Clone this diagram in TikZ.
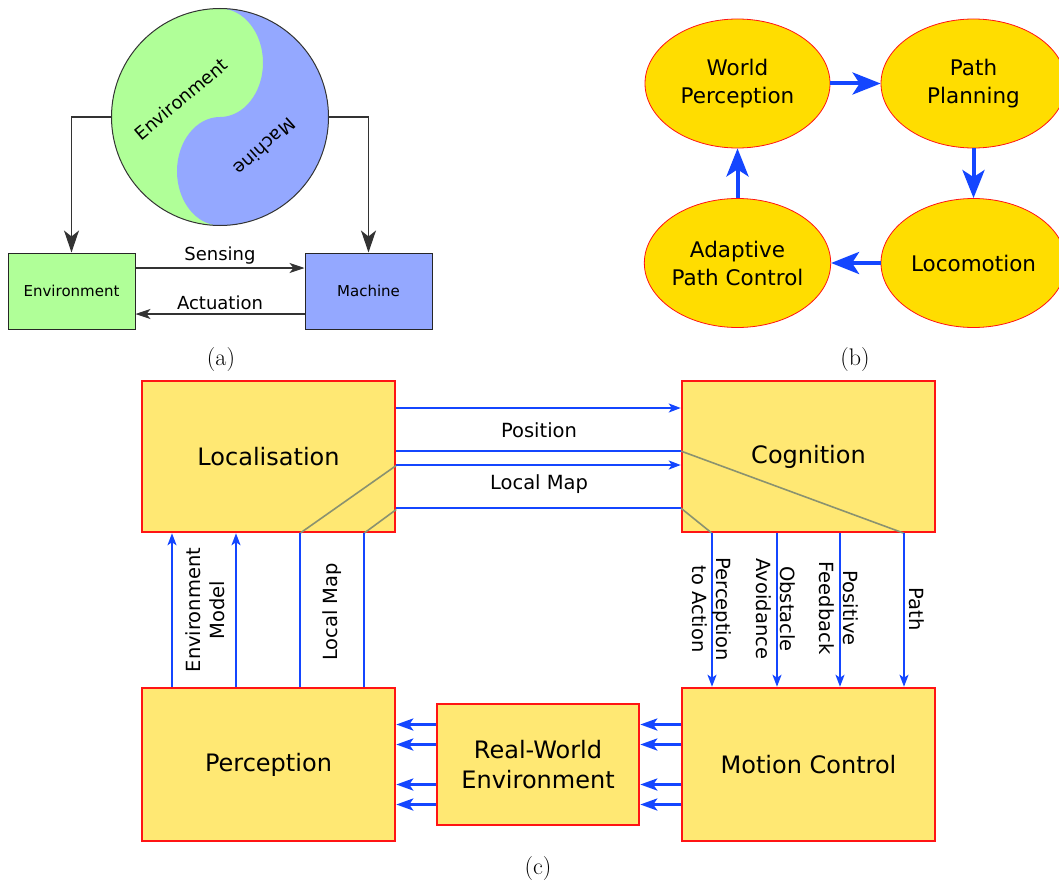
\documentclass[tikz,border=0pt]{standalone}
\usepackage{fontspec}
\usetikzlibrary{arrows.meta,shapes.geometric}
\newfontfamily\dv{DejaVu Sans}
\definecolor{envgreen}{RGB}{176,255,152}
\definecolor{macblue}{RGB}{148,168,255}
\definecolor{goldy}{RGB}{255,221,0}
\definecolor{lyellow}{RGB}{255,232,115}
\definecolor{abblue}{RGB}{20,70,255}
\definecolor{grayline}{RGB}{138,146,112}
\definecolor{bred}{RGB}{255,20,20}
\begin{document}
\begin{tikzpicture}[x=1pt,y=1pt,
  abox/.style={draw=black!85, line width=1pt, minimum width=127pt, minimum height=76pt, inner sep=0pt, font=\dv\fontsize{15}{18}\selectfont},
  blk/.style={draw=black!80, line width=1.1pt},
  bigtip/.style={-{Stealth[length=22pt,width=15pt,inset=6pt]}},
  smalltip/.style={-{Stealth[length=15pt,width=10pt,inset=4pt]}},
  alab/.style={font=\dv\fontsize{18}{22}\selectfont},
  ell/.style={ellipse, draw=bred, line width=0.8pt, fill=goldy, minimum width=185pt, minimum height=129pt, inner sep=0pt, align=center, font=\dv\fontsize{21.5}{28}\selectfont},
  barrow/.style={draw=abblue, line width=4pt, -{Stealth[length=28pt,width=22pt,inset=7pt]}},
  cbox/.style={draw=bred, line width=2.5pt, fill=lyellow, inner sep=0pt, align=center, font=\dv\fontsize{24}{30}\selectfont},
  cline/.style={draw=abblue, line width=2pt},
  ctip/.style={-{Stealth[length=12pt,width=9pt,inset=3pt]}},
  bot/.style={draw=abblue, line width=3pt, -{Stealth[length=17pt,width=12pt,inset=4pt]}},
  glab/.style={font=\dv\fontsize{19.5}{24}\selectfont, align=center},
  gline/.style={draw=grayline, line width=1.6pt},
  captxt/.style={font=\fontsize{24}{28}\selectfont}
]
\clip (0,0) rectangle (1059,-888);
% ---------------- (a)
\fill[envgreen] (220,-117) circle[radius=108.5];
\fill[macblue] (220,-8.5) arc[start angle=90,end angle=-90,radius=108.5]
  arc[start angle=-90,end angle=-270,x radius=43,y radius=54.25]
  arc[start angle=-90,end angle=90,x radius=43,y radius=54.25] -- cycle;
\node[circle, draw=black!80, line width=1pt, minimum size=217pt, inner sep=0pt] (yy) at (220,-117) {};
\node[alab, rotate=40] (tenv) at (181,-99) {Environment};
\node[alab, rotate=222] (tmac) at (265,-147) {Machine};
\node[abox, fill=envgreen] (envb) at (71.5,-291) {Environment};
\node[abox, fill=macblue] (macb) at (368.5,-291) {Machine};
\draw[blk, bigtip] (yy.west) -| (envb.north);
\draw[blk, bigtip] (yy.east) -| (macb.north);
\draw[blk, smalltip] ([yshift=23pt]envb.east) -- node[alab, above] {Sensing} ([yshift=23pt]macb.west);
\draw[blk, smalltip] ([yshift=-23pt]macb.west) -- node[alab, above] {Actuation} ([yshift=-23pt]envb.east);
\node[captxt] (capa) at (221,-360) {(a)};
% ---------------- (b)
\node[ell] (wp) at (737.5,-83.5) {World\\Perception};
\node[ell] (pp) at (973.5,-83.5) {Path\\Planning};
\node[ell] (apc) at (737.5,-263) {Adaptive\\Path Control};
\node[ell] (loco) at (973.5,-263) {Locomotion};
\draw[barrow] (wp.east) -- (pp.west);
\draw[barrow] (pp.south) -- (loco.north);
\draw[barrow] (loco.west) -- (apc.east);
\draw[barrow] (apc.north) -- (wp.south);
\node[captxt] (capb) at (855,-360) {(b)};
% ---------------- (c)
\node[cbox, minimum width=253pt, minimum height=151pt] (loc) at (268.5,-456.5) {Localisation};
\node[cbox, minimum width=253pt, minimum height=151pt] (cog) at (808.5,-456.5) {Cognition};
\node[cbox, minimum width=253pt, minimum height=153pt] (per) at (268.5,-764.5) {Perception};
\node[cbox, minimum width=253pt, minimum height=153pt] (mot) at (808.5,-764.5) {Motion Control};
\node[cbox, minimum width=202pt, minimum height=121pt] (rwe) at (538,-764.5) {Real-World\\Environment};
% gray diagonals
\draw[gline] ([yshift=-9pt]loc.east) -- ([xshift=31.5pt]loc.south);
\draw[gline] ([yshift=-53pt]loc.east) -- ([xshift=95.5pt]loc.south);
\draw[gline] ([yshift=5.5pt]cog.west) -- ([xshift=95.5pt]cog.south);
\draw[gline] ([yshift=-51.5pt]cog.west) -- ([xshift=-96.5pt]cog.south);
% horizontal channels
\draw[cline, ctip] ([yshift=48.5pt]loc.east) -- ([yshift=48.5pt]cog.west);
\draw[cline] ([yshift=5.5pt]loc.east) -- ([yshift=5.5pt]cog.west);
\draw[cline, ctip] ([yshift=-8.5pt]loc.east) -- ([yshift=-8.5pt]cog.west);
\draw[cline] ([yshift=-51.5pt]loc.east) -- ([yshift=-51.5pt]cog.west);
\node[glab] (lpos) at (539,-430) {Position};
\node[glab] (llm) at (539,-484) {Local Map};
% verticals left
\draw[cline, ctip] ([xshift=-96.5pt]per.north) -- ([xshift=-96.5pt]loc.south);
\draw[cline, ctip] ([xshift=-32.5pt]per.north) -- ([xshift=-32.5pt]loc.south);
\draw[cline] ([xshift=31.5pt]per.north) -- ([xshift=31.5pt]loc.south);
\draw[cline] ([xshift=95.5pt]per.north) -- ([xshift=95.5pt]loc.south);
\node[glab, rotate=90] (lem) at (205,-610) {Environment\\Model};
\node[glab, rotate=90] (llm2) at (332,-612) {Local Map};
% verticals right
\draw[cline, ctip] ([xshift=-96.5pt]cog.south) -- ([xshift=-96.5pt]mot.north);
\draw[cline, ctip] ([xshift=-31.5pt]cog.south) -- ([xshift=-31.5pt]mot.north);
\draw[cline, ctip] ([xshift=31.5pt]cog.south) -- ([xshift=31.5pt]mot.north);
\draw[cline, ctip] ([xshift=95.5pt]cog.south) -- ([xshift=95.5pt]mot.north);
\node[glab, rotate=-90] (lpa) at (712,-609) {Perception\\to Action};
\node[glab, rotate=-90] (loa) at (776,-609) {Obstacle\\Avoidance};
\node[glab, rotate=-90] (lpf) at (839,-608) {Positive\\Feedback};
\node[glab, rotate=-90] (lpath) at (916.5,-609) {Path};
% bottom arrows
\foreach \s in {40,20,-20,-40}{
  \draw[bot] ([yshift=\s pt]rwe.west) -- ([yshift=\s pt]rwe.west -| per.east);
  \draw[bot] ([yshift=\s pt]mot.west) -- ([yshift=\s pt]mot.west -| rwe.east);
}
\node[captxt] (capc) at (538,-869) {(c)};
\end{tikzpicture}
\end{document}
